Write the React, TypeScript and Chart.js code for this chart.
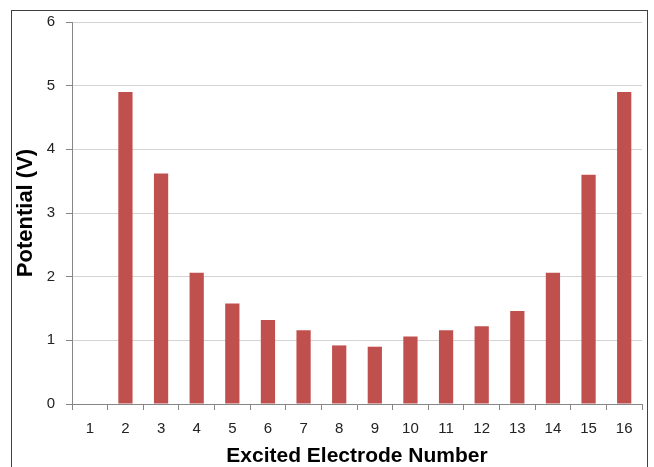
import React, { useEffect, useRef } from "react";
import { Chart, registerables } from "chart.js";

Chart.register(...registerables);

const categories: string[] = ["1","2","3","4","5","6","7","8","9","10","11","12","13","14","15","16"];
const potentialValues: number[] = [0, 4.9, 3.62, 2.06, 1.58, 1.32, 1.16, 0.92, 0.9, 1.06, 1.16, 1.22, 1.46, 2.06, 3.6, 4.9];
const yAxisTitle = "Potential (V)";
const xAxisTitle = "Excited Electrode Number";
const yMin = 0;
const yMax = 6;
const yStep = 1;

export default function App() {
  const canvasRef = useRef<HTMLCanvasElement | null>(null);

  useEffect(() => {
    document.body.style.margin = "0";
    const canvas = canvasRef.current;
    if (!canvas) return;
    const chart = new Chart(canvas, {
      type: "bar",
      data: {
        labels: categories,
        datasets: [
          {
            label: "Potential",
            data: potentialValues,
            backgroundColor: "#C0504D",
            borderWidth: 0,
            categoryPercentage: 1,
            barPercentage: 0.4,
          },
        ],
      },
      options: {
        responsive: false,
        animation: false,
        devicePixelRatio: 1,
        layout: { padding: { top: 22, right: 12, bottom: 0, left: 0 } },
        plugins: {
          legend: { display: false },
          tooltip: { enabled: false },
          title: { display: false },
        },
        scales: {
          x: {
            offset: true,
            grid: {
              display: true,
              drawOnChartArea: false,
              offset: true,
              tickLength: 6,
              tickColor: "#868686",
              lineWidth: 1,
            },
            border: { display: true, color: "#868686", width: 1 },
            ticks: {
              color: "#222",
              font: { family: "'Liberation Sans', Arial, sans-serif", size: 15 },
              padding: 10,
              maxRotation: 0,
              autoSkip: false,
            },
            title: {
              display: true,
              text: xAxisTitle,
              color: "#000",
              font: { family: "'Liberation Sans', Arial, sans-serif", size: 21, weight: "bold", lineHeight: 1 },
              padding: { top: 0, bottom: 0 },
            },
            afterFit: (scale: any) => {
              scale.height = 63;
            },
          },
          y: {
            min: yMin,
            max: yMax,
            ticks: {
              stepSize: yStep,
              color: "#222",
              font: { family: "'Liberation Sans', Arial, sans-serif", size: 15 },
              padding: 11,
            },
            grid: {
              color: "#D4D4D4",
              tickColor: "#868686",
              tickLength: 6,
              lineWidth: 1,
            },
            border: { display: true, color: "#868686", width: 1 },
            title: {
              display: true,
              text: yAxisTitle,
              color: "#000",
              font: { family: "'Liberation Sans', Arial, sans-serif", size: 22, weight: "bold", lineHeight: 1 },
              padding: { top: 15, bottom: 0 },
            },
            afterFit: (scale: any) => {
              scale.width = 72;
            },
          },
        },
      },
    });
    return () => chart.destroy();
  }, []);

  return (
    <div style={{ position: "fixed", left: 0, top: 0, width: 654, height: 467, overflow: "hidden", background: "#fff" }}>
      <div
        style={{
          position: "absolute",
          left: 11,
          top: 10,
          width: 637,
          height: 500,
          border: "1px solid #404040",
          boxSizing: "border-box",
        }}
      />
      <canvas ref={canvasRef} width={654} height={467} style={{ position: "absolute", left: 0, top: 0, width: 654, height: 467 }} />
    </div>
  );
}
